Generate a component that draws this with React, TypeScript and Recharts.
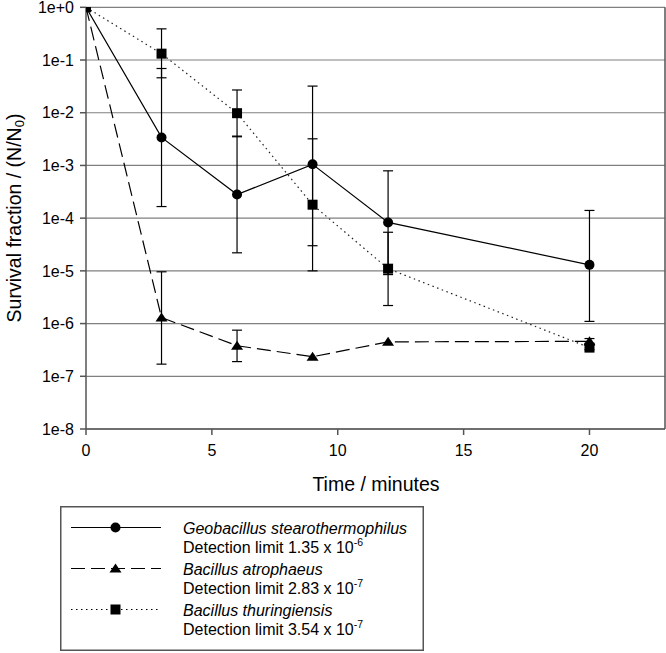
import React from 'react';
import { LineChart, Line, XAxis, YAxis, CartesianGrid, ErrorBar, ReferenceLine, Legend, Label } from 'recharts';

const times = [0, 3, 6, 9, 12, 20];

const geoValues = [1, 3.4e-3, 2.8e-4, 1.05e-3, 8.3e-5, 1.3e-5];
const geoLower = [null, 1.66e-4, 2.2e-5, 3.0e-5, 8.5e-6, 1.1e-6];
const geoUpper = [null, 0.069, 3.6e-3, 0.032, 7.9e-4, 1.4e-4];

const atroValues = [1, 1.3e-6, 3.8e-7, 2.35e-7, 4.5e-7, 4.6e-7];
const atroLower = [null, 1.7e-7, 1.9e-7, null, null, 4.1e-7];
const atroUpper = [null, 9.6e-6, 7.5e-7, null, null, 5.2e-7];

const thurValues = [1, 0.132, 9.8e-3, 1.8e-4, 1.1e-5, 3.5e-7];
const thurLower = [null, 0.046, 3.5e-3, 1.0e-5, 2.2e-6, 3.2e-7];
const thurUpper = [null, 0.39, 0.027, 3.2e-3, 5.4e-5, 3.9e-7];

const xTicks = [0, 5, 10, 15, 20];
const yTicks = [1, 1e-1, 1e-2, 1e-3, 1e-4, 1e-5, 1e-6, 1e-7, 1e-8];
const yTickLabels = ['1e+0', '1e-1', '1e-2', '1e-3', '1e-4', '1e-5', '1e-6', '1e-7', '1e-8'];

const speciesNames = ['Geobacillus stearothermophilus', 'Bacillus atrophaeus', 'Bacillus thuringiensis'];
const detectionMantissa = ['1.35', '2.83', '3.54'];
const detectionExponent = ['-6', '-7', '-7'];

const FONT = '"Liberation Sans", Arial, Helvetica, sans-serif';

const errPair = (v: number, lo: number | null, hi: number | null) =>
  lo == null || hi == null ? undefined : [v - lo, hi - v];

const data = times.map((t, i) => ({
  t,
  geo: geoValues[i],
  geoErr: errPair(geoValues[i], geoLower[i], geoUpper[i]),
  atro: atroValues[i],
  atroErr: errPair(atroValues[i], atroLower[i], atroUpper[i]),
  thur: thurValues[i],
  thurErr: errPair(thurValues[i], thurLower[i], thurUpper[i]),
}));

const Circle = (p: any) => (p.cx == null ? null : <circle key={p.key} cx={p.cx} cy={p.cy} r={5} fill="#000" />);
const Square = (p: any) =>
  p.cx == null ? null : <rect key={p.key} x={p.cx - 5} y={p.cy - 5} width={10} height={10} fill="#000" />;
const Tri = (p: any) =>
  p.cx == null ? null : (
    <polygon
      key={p.key}
      points={`${p.cx},${p.cy - 5} ${p.cx - 6},${p.cy + 4} ${p.cx + 6},${p.cy + 4}`}
      fill="#000"
    />
  );

const dashes = ['', '14 6', '1.5 3.5'];
const markers = ['circle', 'triangle', 'square'];

const LegendBox = () => {
  const w = 364;
  const h = 145;
  return (
    <svg width={w} height={h} style={{ display: 'block' }}>
      <rect x={0.75} y={0.75} width={w - 1.5} height={h - 1.5} fill="#fff" stroke="#555" strokeWidth={1.5} />
      {speciesNames.map((name, i) => {
        const cy = 21.5 + i * 41;
        const mx = 55.5;
        return (
          <g key={name}>
            <line x1={11} x2={101} y1={cy} y2={cy} stroke="#000" strokeWidth={1} strokeDasharray={dashes[i] || undefined} />
            {markers[i] === 'circle' && <circle cx={mx} cy={cy} r={5} fill="#000" />}
            {markers[i] === 'triangle' && (
              <polygon points={`${mx},${cy - 5} ${mx - 6},${cy + 4} ${mx + 6},${cy + 4}`} fill="#000" />
            )}
            {markers[i] === 'square' && <rect x={mx - 5} y={cy - 5} width={10} height={10} fill="#000" />}
            <text x={123} y={cy + 6} fontSize={16} fontStyle="italic" fontFamily={FONT} fill="#000">
              {name}
            </text>
            <text x={123} y={cy + 25.5} fontSize={16} fontFamily={FONT} fill="#000">
              {`Detection limit ${detectionMantissa[i]} x 10`}
              <tspan dy={-7} fontSize={10.5}>
                {detectionExponent[i]}
              </tspan>
            </text>
          </g>
        );
      })}
    </svg>
  );
};

const YTitle = () => (
  <text
    x={14}
    y={218}
    transform="rotate(-90 14 218)"
    textAnchor="middle"
    dominantBaseline="central"
    fontSize={19.5}
    fontFamily={FONT}
    fill="#000"
  >
    Survival fraction / (N/N
    <tspan dy={5} fontSize={13}>
      0
    </tspan>
    <tspan dy={-5}>)</tspan>
  </text>
);

const XTitle = () => (
  <text x={376} y={490.5} textAnchor="middle" fontSize={19.5} fontFamily={FONT} fill="#000">
    Time / minutes
  </text>
);

export default function App() {
  return (
    <div style={{ position: 'absolute', left: 0, top: 0, width: 666, height: 653, background: '#fff' }}>
      <LineChart width={666} height={653} data={data} margin={{ top: 7.3, right: 1, bottom: 194, left: 0 }}>
        <CartesianGrid horizontal vertical={false} stroke="#808080" strokeWidth={1.2} />
        <XAxis
          dataKey="t"
          type="number"
          domain={[0, 23]}
          ticks={xTicks}
          allowDataOverflow
          height={30}
          stroke="#555"
          strokeWidth={1.5}
          tickSize={6}
          tickMargin={10}
          tick={{ fill: '#000', fontSize: 16, fontFamily: FONT }}
        >
          <Label content={XTitle} />
        </XAxis>
        <YAxis
          type="number"
          scale="log"
          domain={[1e-8, 1]}
          ticks={yTicks}
          allowDataOverflow
          width={86}
          stroke="#555"
          strokeWidth={1.5}
          tickSize={6}
          tickMargin={6}
          tickFormatter={(v: number) => yTickLabels[yTicks.findIndex((t) => Math.abs(Math.log10(t) - Math.log10(v)) < 1e-6)] ?? ''}
          tick={{ fill: '#000', fontSize: 16, fontFamily: FONT }}
          interval={0}
        >
          <Label content={YTitle} />
        </YAxis>
        <ReferenceLine x={23} stroke="#555" strokeWidth={1.5} />
        <Line
          dataKey="geo"
          stroke="#000"
          strokeWidth={1.2}
          dot={Circle}
          activeDot={false}
          isAnimationActive={false}
        >
          <ErrorBar dataKey="geoErr" direction="y" width={5} stroke="#000" strokeWidth={1.2} isAnimationActive={false} />
        </Line>
        <Line
          dataKey="atro"
          stroke="#000"
          strokeWidth={1.2}
          strokeDasharray="14 6"
          dot={Tri}
          activeDot={false}
          isAnimationActive={false}
        >
          <ErrorBar dataKey="atroErr" direction="y" width={5} stroke="#000" strokeWidth={1.2} isAnimationActive={false} />
        </Line>
        <Line
          dataKey="thur"
          stroke="#222"
          strokeWidth={1.2}
          strokeDasharray="1.5 3.5"
          dot={Square}
          activeDot={false}
          isAnimationActive={false}
        >
          <ErrorBar dataKey="thurErr" direction="y" width={5} stroke="#000" strokeWidth={1.2} isAnimationActive={false} />
        </Line>
        <Legend
          layout="vertical"
          align="center"
          verticalAlign="middle"
          content={LegendBox}
          wrapperStyle={{ position: 'absolute', left: 60, top: 506, width: 364, height: 145 }}
        />
      </LineChart>
    </div>
  );
}
